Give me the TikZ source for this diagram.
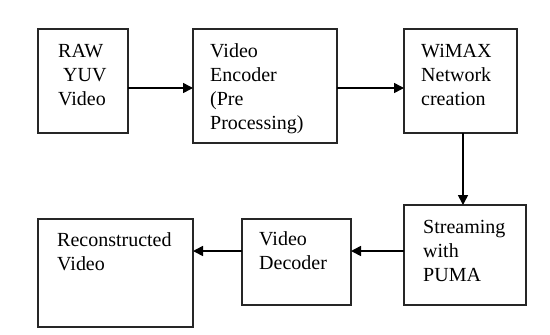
\documentclass[tikz,border=0pt]{standalone}
\usepackage{fontspec}
\setmainfont{Liberation Serif}
\usetikzlibrary{arrows.meta,calc}
\newcommand\boxlines[1]{\vtop{\halign{##\hfil\cr#1\crcr}}}
\begin{document}
\begin{tikzpicture}[x=1pt,y=-1pt,
  blk/.style={draw=black!85, line width=1.7pt, inner sep=0pt, outer sep=0pt},
  lbl/.style={anchor=base west, inner sep=0pt, font=\fontsize{20}{24}\selectfont},
  arr/.style={draw=black, line width=1.6pt, -{Triangle[length=10pt,width=10pt]}}]
\useasboundingbox (0,0) rectangle (550,335);
% boxes
\node[blk, minimum width=90pt, minimum height=104pt] (raw) at (83,81) {};
\node[blk, minimum width=144pt, minimum height=114pt] (enc) at (265,86) {};
\node[blk, minimum width=113pt, minimum height=104pt] (wim) at (460.5,81) {};
\node[blk, minimum width=122pt, minimum height=100pt] (str) at (465,255) {};
\node[blk, minimum width=109pt, minimum height=86pt] (dec) at (296.5,262) {};
\node[blk, minimum width=155pt, minimum height=108pt] (rec) at (115.5,273) {};
% texts
\node[lbl] (rawt) at (58,57) {\boxlines{RAW\cr\hskip5pt YUV\cr Video}};
\node[lbl] (enct) at (210,57) {\boxlines{Video\cr Encoder\cr (Pre\cr Processing)}};
\node[lbl] (wimt) at (421,57) {\boxlines{WiMAX\cr Network\cr creation}};
\node[lbl] (strt) at (423,233) {\boxlines{Streaming\cr with\cr PUMA}};
\node[lbl] (dect) at (259,245) {\boxlines{Video\cr Decoder}};
\node[lbl] (rect) at (57,246.5) {\boxlines{Reconstructed\cr Video}};
% connectors
\coordinate (toprow) at (0,88);
\coordinate (botrow) at (0,251);
\coordinate (vcol) at (463,0);
\draw[arr] (raw.east |- toprow) -- (enc.west |- toprow);
\draw[arr] (enc.east |- toprow) -- (wim.west |- toprow);
\draw[arr] (wim.south -| vcol) -- (str.north -| vcol);
\draw[arr] (str.west |- botrow) -- (dec.east |- botrow);
\draw[arr] (dec.west |- botrow) -- (rec.east |- botrow);
\end{tikzpicture}
\end{document}
